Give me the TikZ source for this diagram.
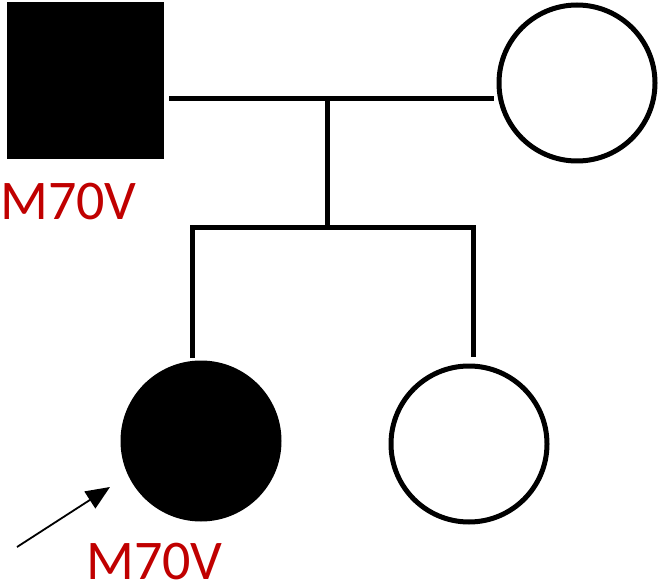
\documentclass[tikz,border=0pt]{standalone}
\usepackage{fontspec}
\setmainfont{Carlito}
\usepackage{tikz}
\usetikzlibrary{arrows.meta, calc}
\definecolor{PedRed}{RGB}{192, 0, 0}

\tikzset{
  affected/.style={fill=black, draw=black, line width=5pt},
  unaffected/.style={fill=white, draw=black, line width=5pt},
  pedline/.style={black, line width=5pt},
  varlabel/.style={text=PedRed, inner sep=0pt, anchor=base west, font=\fontsize{56}{60}\selectfont},
  probarrow/.style={black, line width=1.8pt, -{Triangle[length=24pt, width=20pt]}}
}

\begin{document}
\begin{tikzpicture}[x=1pt,y=-1pt]
  \path[use as bounding box] (0,0) rectangle (661,585);
  \fill[white] (0,0) rectangle (661,585);
  % parents
  \node[affected, rectangle, minimum size=152pt, inner sep=0pt] (father) at (85.5,81) {};
  \node[unaffected, circle, minimum size=156pt, inner sep=0pt] (mother) at (577,83) {};
  % children
  \node[affected, circle, minimum size=156pt, inner sep=0pt] (proband) at (201,441) {};
  \node[unaffected, circle, minimum size=156pt, inner sep=0pt] (sister) at (469,444) {};
  % junction points
  \coordinate (mleft) at (169,99);
  \coordinate (mright) at (494,99);
  \coordinate (mmid) at (327,99);
  \coordinate (sibmid) at (327,228);
  \coordinate (sibleft) at (192,228);
  \coordinate (sibright) at (473,228);
  \coordinate (probtop) at (192,358);
  \coordinate (sistop) at (473,357);
  \draw[pedline] (mleft) -- (mright);
  \draw[pedline] (mmid) -- (sibmid);
  \draw[pedline] (probtop) -- (sibleft) -- (sibright) -- (sistop);
  % labels
  \node[varlabel] (fathervar) at (0,220) {M70V};
  \node[varlabel] (probandvar) at (86,579) {M70V};
  % proband arrow
  \coordinate (arrowtail) at (17,547);
  \coordinate (arrowtip) at (110,487);
  \draw[probarrow] (arrowtail) -- (arrowtip);
\end{tikzpicture}
\end{document}
